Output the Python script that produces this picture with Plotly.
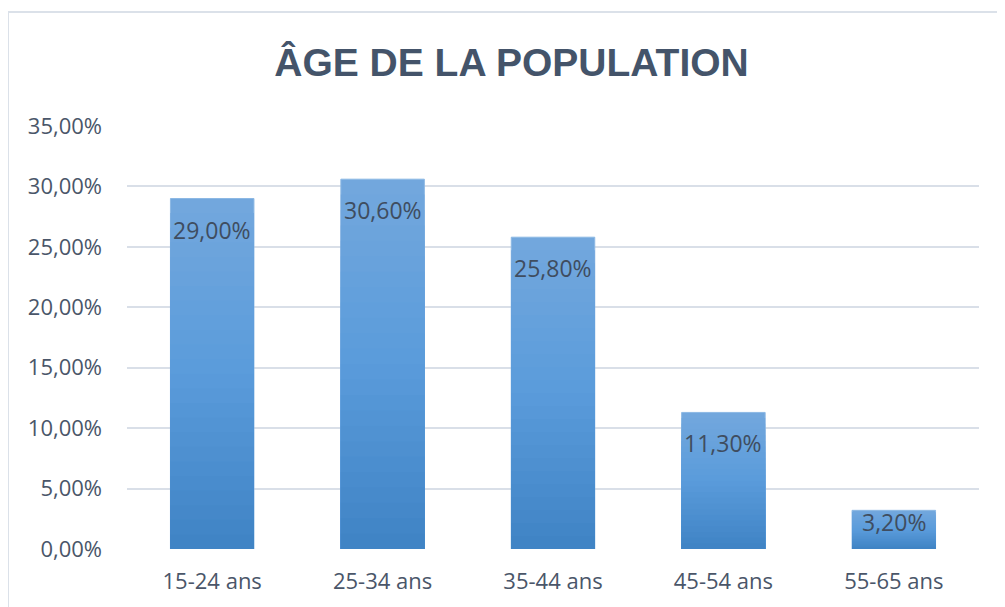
import plotly.graph_objects as go

categories = ["15-24 ans", "25-34 ans", "35-44 ans", "45-54 ans", "55-65 ans"]
values = [0.29, 0.306, 0.258, 0.113, 0.032]
y_ticks = [0, 0.05, 0.10, 0.15, 0.20, 0.25, 0.30, 0.35]
title_text = "ÂGE DE LA POPULATION"

W, H = 1005, 607
OFF = 8  # page body margin offset
ML, MR, MT, MB = 127 - OFF, 26 + OFF, 126 - OFF, 58 + OFF
plot_w = W - ML - MR
plot_h = H - MT - MB
y_max = 0.35

def fr_pct(v):
    return f"{v*100:.2f}%".replace(".", ",")

fig = go.Figure()

# gradient bars: overlay of progressively shorter, darker bars
top_rgb = (0x72, 0xa7, 0xdd)
mid_rgb = (0x5a, 0x9b, 0xdb)
bot_rgb = (0x40, 0x84, 0xc5)
N = 24
for k in range(N):
    frac = 1 - k / N
    t = k / (N - 1)
    if t < 0.5:
        a, b, u = top_rgb, mid_rgb, t / 0.5
    else:
        a, b, u = mid_rgb, bot_rgb, (t - 0.5) / 0.5
    c = tuple(round(a[i] + (b[i] - a[i]) * u) for i in range(3))
    fig.add_trace(go.Bar(
        x=categories,
        y=[v * frac for v in values],
        marker=dict(color=f"rgb{c}",
                    line=dict(width=1 if k == 0 else 0, color="#8cb8e4")),
        width=0.49,
        hoverinfo="skip",
        showlegend=False,
    ))

ppu = plot_h / y_max
annotations = []
for cat, v in zip(categories, values):
    bar_px = v * ppu
    shift = min(31, bar_px - 27)
    annotations.append(dict(
        x=cat, y=v, xref="x", yref="y", text=fr_pct(v), showarrow=False,
        yanchor="middle", yshift=-shift,
        font=dict(family="Open Sans", size=23, color="#3f4d60"),
    ))

# chart border
bx0 = (8 - OFF - ML) / plot_w
by1 = (H - MB - (12 - OFF)) / plot_h
shapes = [dict(type="rect", xref="paper", yref="paper",
               x0=bx0, x1=1.2, y0=-0.5, y1=by1,
               line=dict(color="#dbe1e9", width=2), layer="below")]

fig.update_layout(
    width=W, height=H,
    margin=dict(l=ML, r=MR, t=MT, b=MB, pad=0),
    paper_bgcolor="white", plot_bgcolor="white",
    barmode="overlay",
    separators=", ",
    title=dict(text=f"<b>{title_text}</b>", x=(511.5 - OFF) / W, xanchor="center",
               y=1 - (62 - OFF) / H, yanchor="middle",
               font=dict(family="Liberation Sans", size=39, color="#44546a")),
    xaxis=dict(showgrid=False, showline=False, zeroline=False, ticks="",
               tickfont=dict(family="Open Sans", size=22, color="#4a5669"),
               ticklabelstandoff=17),
    yaxis=dict(range=[0, y_max], tickvals=y_ticks, tickformat=".2%",
               showgrid=True, gridcolor="#d9dfe8", gridwidth=2,
               zeroline=False, showline=False, ticks="",
               tickfont=dict(family="Open Sans", size=22, color="#4a5669"),
               ticklabelstandoff=24),
    annotations=annotations,
    shapes=shapes,
)

fig.write_html("out.html")
